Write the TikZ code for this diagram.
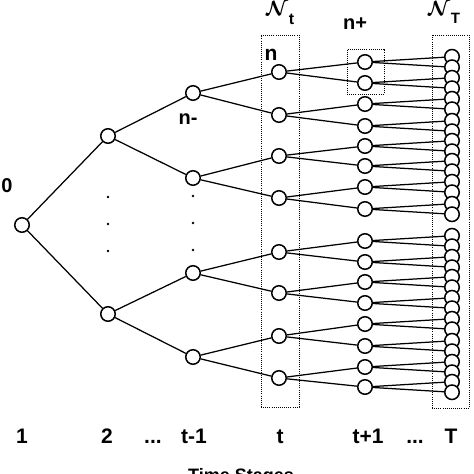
\documentclass[tikz,border=0pt]{standalone}
\usepackage{bm}
\usepackage{fontspec}
\setmainfont{Liberation Sans}
\usetikzlibrary{backgrounds}
\newcommand{\mydots}{...}
\newcommand{\calN}{\ensuremath{\bm{\mathcal{N}}}}
\begin{document}
\begin{tikzpicture}[x=1pt,y=-1pt,
  nd/.style={circle,draw,fill=white,line width=1.5pt,minimum size=14.5pt,inner sep=0pt},
  edge/.style={line width=1.25pt},
  dbox/.style={draw,line width=0.9pt,dash pattern=on 0.9pt off 1.2pt},
  lab/.style={font=\bfseries\fontsize{21}{21}\selectfont,inner sep=0pt,anchor=base},
  nlab/.style={font=\bfseries\fontsize{20}{20}\selectfont,inner sep=0pt},
  dotm/.style={circle,fill=black,inner sep=0pt,minimum size=2.6pt}]
\useasboundingbox (0,0) rectangle (474,474);
% dotted boxes
\node[dbox,inner sep=0pt,minimum width=38pt,minimum height=372pt] (boxt) at (280,221) {};
\node[dbox,inner sep=0pt,minimum width=37pt,minimum height=373pt] (boxT) at (450.5,221.5) {};
\node[dbox,inner sep=0pt,minimum width=37pt,minimum height=45pt] (boxn) at (365.5,71.5) {};
% nodes
\node[nd] (r) at (22,225) {};
\node[nd] (a1) at (108,136) {};
\node[nd] (a2) at (108,314) {};
\foreach \i/\y in {1/93,2/178,3/273,4/357} \node[nd] (b\i) at (193,\y) {};
\foreach \i/\y in {1/72,2/115,3/156,4/198,5/252,6/293,7/336,8/378} \node[nd] (c\i) at (279,\y) {};
\foreach \i/\y in {1/62,2/83,3/104,4/126,5/146,6/166,7/187,8/209,9/241,10/262,11/282,12/303,13/324,14/346,15/367,16/387}{
  \node[nd] (d\i) at (365,\y) {};
}
\foreach \i/\y in {1/62,2/83,3/104,4/126,5/146,6/166,7/187,8/209,9/241,10/262,11/282,12/303,13/324,14/346,15/367,16/387}{
  \pgfmathtruncatemacro{\ka}{2*\i-1}
  \pgfmathtruncatemacro{\kb}{2*\i}
  \node[nd] (e\ka) at (452,\y-5.25) {};
  \node[nd] (e\kb) at (452,\y+5.25) {};
}
% edges
\begin{scope}[on background layer]
\fill[white] (0,0) rectangle (474,474);
\draw[edge] (r) -- (a1); \draw[edge] (r) -- (a2);
\draw[edge] (a1) -- (b1); \draw[edge] (a1) -- (b2);
\draw[edge] (a2) -- (b3); \draw[edge] (a2) -- (b4);
\foreach \i in {1,2,3,4}{
  \pgfmathtruncatemacro{\ka}{2*\i-1}
  \pgfmathtruncatemacro{\kb}{2*\i}
  \draw[edge] (b\i) -- (c\ka); \draw[edge] (b\i) -- (c\kb);
}
\foreach \i in {1,2,3,4,5,6,7,8}{
  \pgfmathtruncatemacro{\ka}{2*\i-1}
  \pgfmathtruncatemacro{\kb}{2*\i}
  \draw[edge] (c\i) -- (d\ka); \draw[edge] (c\i) -- (d\kb);
}
\foreach \i in {1,2,3,4,5,6,7,8,9,10,11,12,13,14,15,16}{
  \pgfmathtruncatemacro{\ka}{2*\i-1}
  \pgfmathtruncatemacro{\kb}{2*\i}
  \draw[edge] (d\i) -- (e\ka); \draw[edge] (d\i) -- (e\kb);
}
\end{scope}
% vertical ellipsis dots
\foreach \y [count=\k] in {197,224,251} \node[dotm] (pa\k) at (108,\y) {};
\foreach \y [count=\k] in {196,223,250} \node[dotm] (pb\k) at (193,\y) {};
% labels
\node[nlab,anchor=center] (l0) at (7,186) {0};
\node[nlab,anchor=center,font=\bfseries\fontsize{21}{21}\selectfont] (ln) at (271,55) {n};
\node[nlab,anchor=center] (lnp) at (355,24) {n+};
\node[nlab,anchor=center] (lnm) at (188,119) {n-};
\node[inner sep=0pt,anchor=base west,font=\fontsize{20}{20}\selectfont] (Nt) at (266,15) {\calN\raisebox{-9pt}{\bfseries\fontsize{16}{16}\selectfont t}};
\node[inner sep=0pt,anchor=base west,font=\fontsize{20}{20}\selectfont] (NT) at (428,15) {\calN\raisebox{-8pt}{\bfseries\fontsize{15}{15}\selectfont T}};
\node[lab] (s1) at (22,443) {1};
\node[lab] (s2) at (107,443) {2};
\node[lab] (s3) at (153,443) {\mydots};
\node[lab] (s4) at (194,443) {t-1};
\node[lab] (s5) at (280,443) {t};
\node[lab] (s6) at (368,443) {t+1};
\node[lab] (s7) at (415,443) {\mydots};
\node[lab] (s8) at (451,443) {T};
\node[inner sep=0pt,anchor=base,font=\bfseries\fontsize{18}{18}\selectfont] (ts) at (241,481) {Time Stages};
\end{tikzpicture}
\end{document}
